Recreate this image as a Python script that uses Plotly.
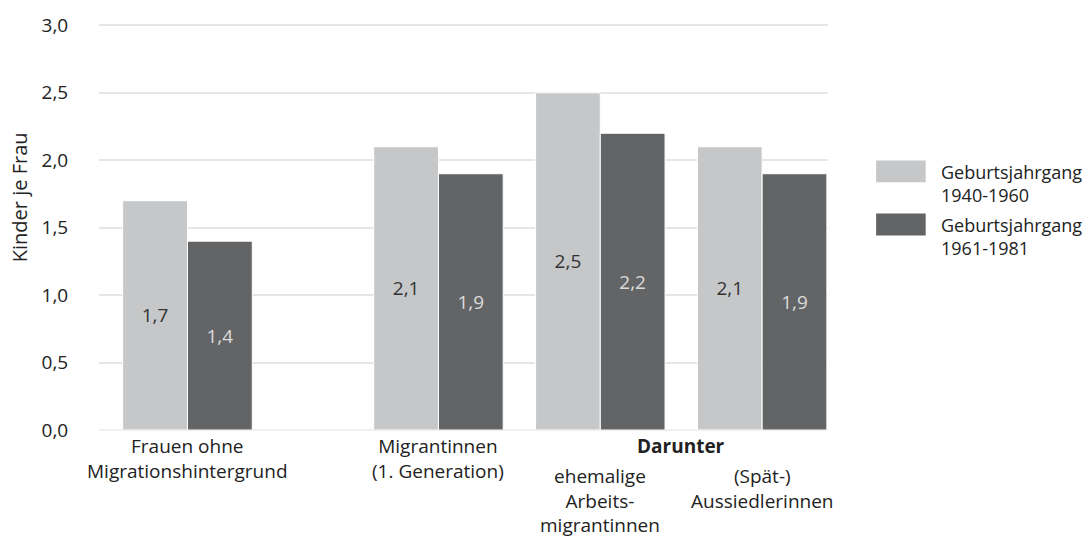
import plotly.graph_objects as go

# Daten
kategorien = ["Frauen ohne<br>Migrationshintergrund",
              "Migrantinnen<br>(1. Generation)",
              "ehemalige<br>Arbeits-<br>migrantinnen",
              "(Spät-)<br>Aussiedlerinnen"]
unterkategorie_titel = "Darunter"
jahrgang_1940_1960 = [1.7, 2.1, 2.5, 2.1]
jahrgang_1961_1981 = [1.4, 1.9, 2.2, 1.9]
serien_namen = ["Geburtsjahrgang<br>1940-1960", "Geburtsjahrgang<br>1961-1981"]
y_ticks = [0, 0.5, 1.0, 1.5, 2.0, 2.5, 3.0]
y_titel = "Kinder je Frau"

farben = ["#c6c7c9", "#636466"]
text_farben = ["#333333", "#dcdcdc"]
schrift = "Open Sans"
groesse = 19

fig = go.Figure()

# Gruppe 1 auf x, Migrantinnen-Gruppen auf x2 (groesserer Abstand dazwischen)
achsen = [("x", slice(0, 1)), ("x2", slice(1, None))]
for werte, name, farbe, tfarbe in zip([jahrgang_1940_1960, jahrgang_1961_1981],
                                      serien_namen, farben, text_farben):
    for achse, sl in achsen:
        fig.add_trace(go.Bar(
            x=kategorien[sl], y=werte[sl], name=name,
            xaxis=achse, yaxis="y",
            marker=dict(color=farbe, line=dict(color="white", width=1)),
            texttemplate="%{y:.1f}", textposition="inside",
            insidetextanchor="middle", textangle=0,
            textfont=dict(color=tfarbe, size=groesse, family=schrift),
            showlegend=False, hoverinfo="skip"))

fig.update_layout(
    width=1091, height=538,
    margin=dict(l=99, r=263, t=21, b=108),
    plot_bgcolor="white", paper_bgcolor="white",
    separators=",.",
    barmode="group", bargap=0.2, bargroupgap=0,
    font=dict(family=schrift, size=groesse, color="#222222"),
    xaxis=dict(domain=[0, 0.2936], range=[-0.546, 0.775],
               showticklabels=False, showgrid=False, zeroline=False),
    xaxis2=dict(domain=[0.2936, 1], range=[-0.775, 2.407], anchor="y",
                showticklabels=False, showgrid=False, zeroline=False),
    yaxis=dict(range=[0, 3.01], tickvals=y_ticks, tickformat=".1f",
               gridcolor="#e6e6e6", gridwidth=1.5,
               zeroline=True, zerolinecolor="#efefef", zerolinewidth=2,
               ticks="outside", ticklen=26, tickcolor="rgba(0,0,0,0)"),
)

annot = []
# Achsentitel (etwas oberhalb der Mitte wie im Original)
annot.append(dict(x=-0.108, y=0.574, xref="paper", yref="paper", text=y_titel,
                  textangle=-90, showarrow=False, xanchor="center", yanchor="middle",
                  font=dict(size=20)))

# Kategorienbeschriftung
annot.append(dict(x=kategorien[0], y=0, xref="x", yref="y", text=kategorien[0],
                  showarrow=False, yanchor="top", yshift=-1))
annot.append(dict(x=kategorien[1], y=0, xref="x2", yref="y", text=kategorien[1],
                  showarrow=False, yanchor="top", yshift=-1))
annot.append(dict(x=1.5, y=0, xref="x2", yref="y", text="<b>" + unterkategorie_titel + "</b>",
                  showarrow=False, yanchor="top", yshift=-1))
for k in kategorien[2:]:
    annot.append(dict(x=k, y=0, xref="x2", yref="y", text=k,
                      showarrow=False, yanchor="top", yshift=-31))

# Legende von Hand (grosse Farbfelder)
legend_y = [0.637, 0.506]
for farbe, name, ly in zip(farben, serien_namen, legend_y):
    fig.add_shape(type="rect", xref="paper", yref="paper",
                  x0=1.066, x1=1.134, y0=ly - 0.027, y1=ly + 0.027,
                  fillcolor=farbe, line=dict(width=0))
    annot.append(dict(x=1.152, y=ly + 0.033, xref="paper", yref="paper", text=name,
                      showarrow=False, xanchor="left", yanchor="top", align="left",
                      font=dict(size=18)))

fig.update_layout(annotations=annot)
fig.write_html("out.html", config={"displayModeBar": False},
               post_script="document.body.style.margin='0';")
